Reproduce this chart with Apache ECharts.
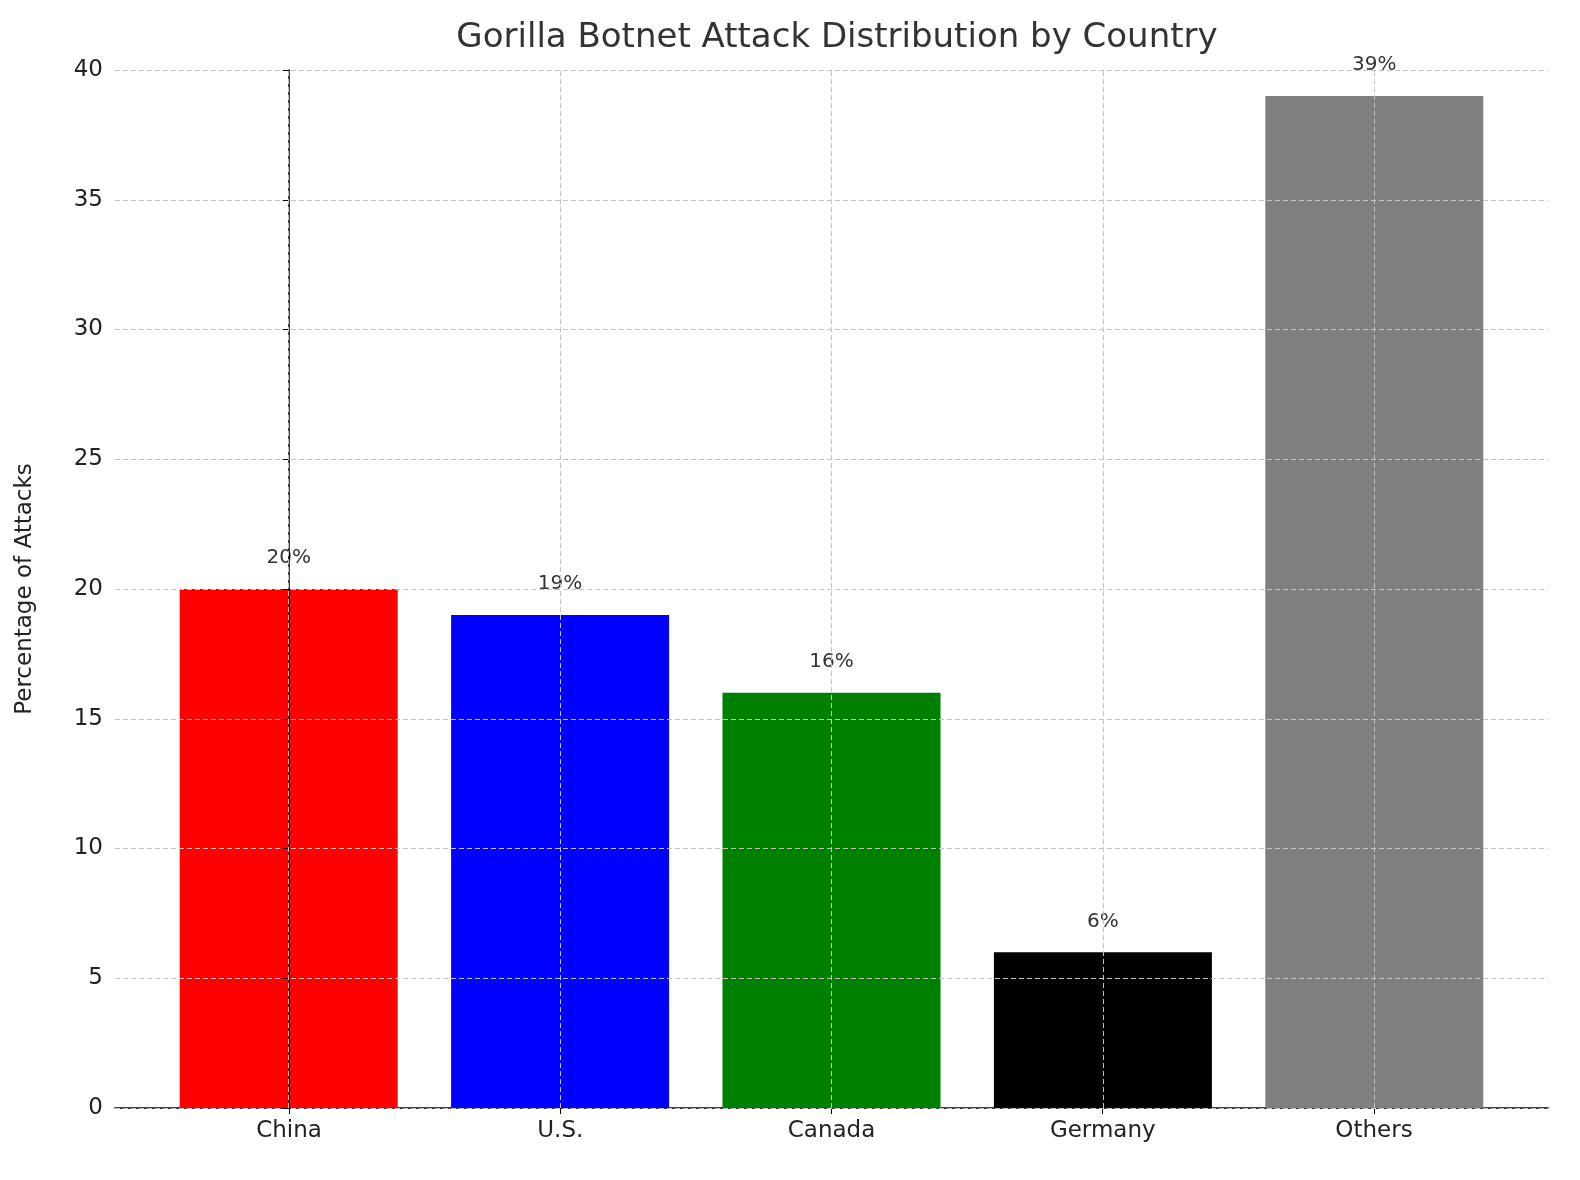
<!DOCTYPE html>
<html><head><meta charset="utf-8">
<script src="https://cdn.jsdelivr.net/npm/echarts@6/dist/echarts.min.js"></script>
<style>html,body{margin:0;padding:0;background:#fff}#c{width:1580px;height:1180px}</style>
</head><body><div id="c"></div>
<script>
const categories = ['China', 'U.S.', 'Canada', 'Germany', 'Others'];
const values = [20, 19, 16, 6, 39];
const colors = ['#ff0000', '#0000ff', '#008000', '#000000', '#808080'];
const chart = echarts.init(document.getElementById('c'));
const font = 'DejaVu Sans';
const gridLine = { color: '#c4c4c4', type: [5, 3], width: 1 };
chart.setOption({
  animation: false,
  textStyle: { fontFamily: font },
  title: { text: 'Gorilla Botnet Attack Distribution by Country', left: 832, top: 16, textAlign: 'center',
    textStyle: { fontFamily: font, fontSize: 34, fontWeight: 'normal', color: '#333' } },
  grid: [
    { left: 115, right: 32, top: 70, bottom: 72 },
    { left: 153.4, right: 70.4, top: 70, bottom: 72 }
  ],
  xAxis: [
    { type: 'value', gridIndex: 0, min: -0.64, max: 4.64,
      axisLine: { show: true, onZero: false, lineStyle: { color: '#000', width: 1.5 } },
      axisTick: { show: false }, axisLabel: { show: false }, splitLine: { show: false } },
    { type: 'category', gridIndex: 1, data: categories,
      axisLine: { show: false },
      axisTick: { show: true, alignWithLabel: true, length: 6, lineStyle: { color: '#000' } },
      axisLabel: { fontSize: 23, color: '#222', margin: 12, fontFamily: font },
      splitLine: { show: false } }
  ],
  yAxis: [
    { type: 'value', gridIndex: 0, min: 0, max: 40, interval: 5, z: 3,
      name: 'Percentage of Attacks', nameLocation: 'middle', nameGap: 78, nameRotate: 90,
      nameTextStyle: { fontSize: 23, color: '#222', fontFamily: font },
      axisLine: { show: true, lineStyle: { color: '#000', width: 1.5 } },
      axisTick: { show: true, length: 6, lineStyle: { color: '#000' } },
      axisLabel: { fontSize: 23, color: '#222', margin: 12, fontFamily: font },
      splitLine: { show: true, lineStyle: gridLine } },
    { type: 'value', gridIndex: 1, min: 0, max: 40, show: false }
  ],
  series: [{
    type: 'bar', xAxisIndex: 0, yAxisIndex: 0, barWidth: 218,
    data: values.map((v, i) => ({ value: [i, v], itemStyle: { color: colors[i] } })),
    label: { show: true, position: 'top', distance: 21, formatter: p => p.value[1] + '%',
      fontSize: 20, color: '#333', fontFamily: font },
    markLine: { silent: true, symbol: 'none', label: { show: false },
      lineStyle: gridLine,
      data: categories.map((c, i) => ({ xAxis: i })) }
  }]
});
</script></body></html>
